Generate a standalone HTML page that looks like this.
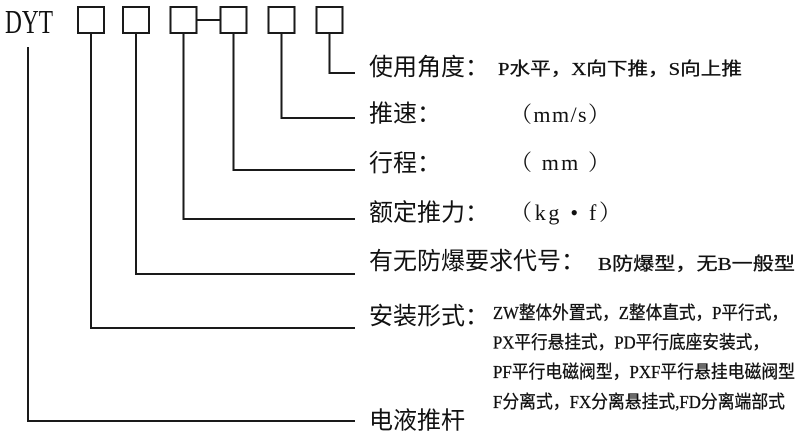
<!DOCTYPE html>
<html>
<head>
<meta charset="utf-8">
<style>
html,body{margin:0;padding:0;background:#fff;}
svg{display:block;}
.main{font-family:"Liberation Sans","Noto Sans CJK SC",sans-serif;font-size:24px;fill:#111;}
.sm{font-family:"Liberation Serif","Noto Sans CJK SC",serif;font-size:18px;fill:#111;stroke:#111;stroke-width:0.3px;}
.par{font-family:"Liberation Serif","Noto Serif CJK SC",serif;font-size:22px;fill:#111;}
</style>
</head>
<body>
<svg width="800" height="438" viewBox="0 0 800 438" xmlns="http://www.w3.org/2000/svg">
  <rect x="0" y="0" width="800" height="438" fill="#fff"/>
  <text x="5" y="33" font-family="Liberation Serif, serif" font-size="34" fill="#111" textLength="48" lengthAdjust="spacingAndGlyphs">DYT</text>

  <g fill="none" stroke="#1a1a1a" stroke-width="2">
    <rect x="78" y="7" width="26" height="26"/>
    <rect x="123" y="7" width="26" height="26"/>
    <rect x="170.5" y="7" width="26" height="26"/>
    <rect x="220.5" y="7" width="26" height="26"/>
    <rect x="268.5" y="7" width="26" height="26"/>
    <rect x="316.5" y="7" width="26" height="26"/>
    <path d="M197.5 20 H219.5"/>
    <path d="M28 47 V421 H355"/>
    <path d="M91 34 V328 H355"/>
    <path d="M136 34 V274 H355"/>
    <path d="M183.5 34 V219 H355"/>
    <path d="M233.5 34 V170 H355"/>
    <path d="M281.5 34 V118 H355"/>
    <path d="M329.5 34 V73 H355"/>
  </g>

  <text class="main" x="369" y="75">使用角度：</text>
  <text class="sm" x="498" y="75" textLength="244" lengthAdjust="spacingAndGlyphs">P水平，X向下推，S向上推</text>

  <text class="main" x="369" y="121.5">推速：</text>
  <text class="par" x="510" y="122" textLength="100">（mm/s）</text>

  <text class="main" x="369" y="171">行程：</text>
  <text class="par" x="510" y="170" textLength="100">（ mm ）</text>

  <text class="main" x="369" y="220.5">额定推力：</text>
  <text class="par" x="510" y="220" textLength="111">（kg • f）</text>

  <text class="main" x="369" y="269">有无防爆要求代号：</text>
  <text class="sm" x="598" y="270" font-size="20" textLength="197" lengthAdjust="spacingAndGlyphs">B防爆型，无B一般型</text>

  <text class="main" x="369" y="324">安装形式：</text>
  <text class="sm" x="493" y="319" textLength="295" lengthAdjust="spacingAndGlyphs">ZW整体外置式，Z整体直式，P平行式，</text>
  <text class="sm" x="493" y="348.5" textLength="276" lengthAdjust="spacingAndGlyphs">PX平行悬挂式，PD平行底座安装式，</text>
  <text class="sm" x="493" y="378" textLength="302" lengthAdjust="spacingAndGlyphs">PF平行电磁阀型，PXF平行悬挂电磁阀型</text>
  <text class="sm" x="493" y="408" textLength="292" lengthAdjust="spacingAndGlyphs">F分离式，FX分离悬挂式,FD分离端部式</text>

  <text class="main" x="369" y="428.5">电液推杆</text>
</svg>
</body>
</html>
